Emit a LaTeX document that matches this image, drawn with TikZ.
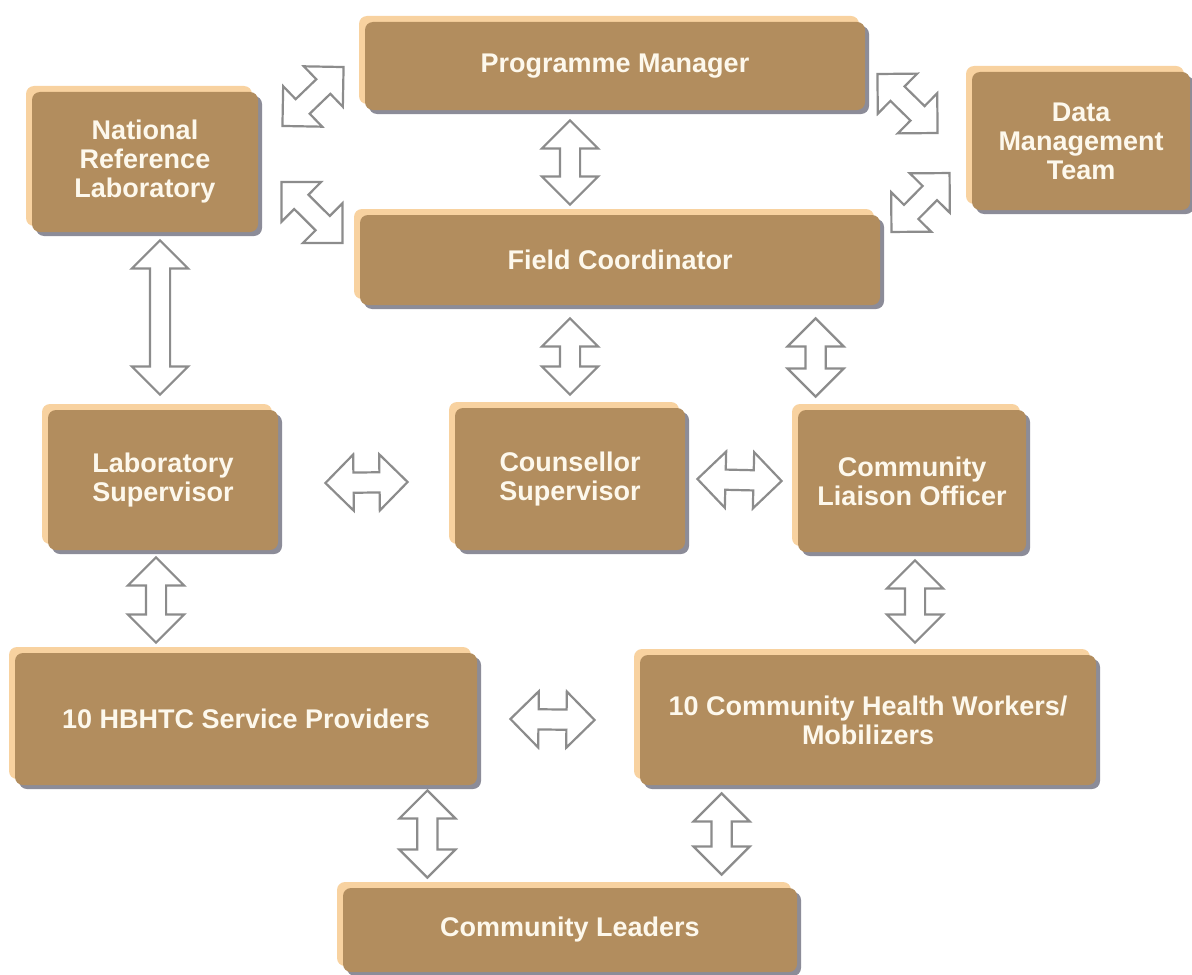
\documentclass[tikz,border=0pt]{standalone}
\usepackage{fontspec}
\setmainfont{Liberation Sans}
\usetikzlibrary{calc, shapes.arrows, shadows}

\definecolor{boxbrown}{RGB}{178,141,94}
\definecolor{boxglow}{RGB}{248,210,160}
\definecolor{boxshade}{RGB}{140,140,152}
\definecolor{boxtext}{RGB}{253,248,236}
\definecolor{arrowgray}{RGB}{140,140,140}

\tikzset{
  orgbox/.style={rounded corners=4pt, fill=boxbrown, text=boxtext, align=center,
    font=\fontsize{13.5}{14.5}\selectfont\bfseries, inner sep=0pt,
    general shadow={fill=boxglow, shadow xshift=-3pt, shadow yshift=3pt},
    general shadow={fill=boxshade, shadow xshift=2pt, shadow yshift=-2pt}},
  dblarr/.style={double arrow, draw=arrowgray, fill=white, line width=1.1pt,
    inner sep=4.5pt, double arrow head extend=9pt, double arrow tip angle=90}
}

% hollow two-way arrow between two points
\newcommand{\linkarrow}[2]{%
  \path let \p1=(#1), \p2=(#2),
    \n1={atan2(\y2-\y1,\x2-\x1)}, \n2={veclen(\x2-\x1,\y2-\y1)}
    in node[dblarr, minimum height=\n2, rotate=\n1] at (\x1/2+\x2/2,\y1/2+\y2/2) {};}

\begin{document}
\begin{tikzpicture}[x=0.5pt, y=-0.5pt]
    \fill[white] (0,0) rectangle (1192,974);
    \useasboundingbox (0,0) rectangle (1192,974);

    % Top row
    \node[orgbox, minimum width=113pt, minimum height=70pt] (nrl) at (145,162) {National\\Reference\\Laboratory};
    \node[orgbox, minimum width=250pt, minimum height=44pt] (pm) at (615,66) {Programme Manager};
    \node[orgbox, minimum width=109pt, minimum height=69pt] (dmt) at (1081,141) {Data\\Management\\Team};
    \node[orgbox, minimum width=260pt, minimum height=45pt] (fc) at (620,260) {Field Coordinator};

    % Supervisors
    \node[orgbox, minimum width=115pt, minimum height=70pt] (ls) at (163,480) {Laboratory\\Supervisor};
    \node[orgbox, minimum width=115pt, minimum height=71pt] (cs) at (570,479) {Counsellor\\Supervisor};
    \node[orgbox, minimum width=114pt, minimum height=71pt] (clo) at (912,481) {Community\\Liaison Officer};

    % Field staff
    \node[orgbox, minimum width=231pt, minimum height=66pt] (hb) at (246,719) {10 HBHTC Service Providers};
    \node[orgbox, minimum width=228pt, minimum height=65pt] (chw) at (868,720) {10 Community Health Workers/\\Mobilizers};
    \node[orgbox, minimum width=227pt, minimum height=42pt] (cl) at (570,930) {Community Leaders};

    % Diagonal arrows
    \linkarrow{$(nrl.east)+(24,-36)$}{$(pm.west)+(-21,1)$}
    \linkarrow{$(nrl.east)+(23,20)$}{$(fc.west)+(-17,-17)$}
    \linkarrow{$(pm.east)+(12,8)$}{$(dmt.west)+(-34,-8)$}
    \linkarrow{$(fc.east)+(11,-28)$}{$(dmt.west)+(-22,32)$}

    % Vertical arrows
    \linkarrow{$(pm.south -| cs.north)+(0,10)$}{$(fc.north -| cs.north)+(0,-10)$}
    \linkarrow{$(fc.south -| cs.north)+(0,13)$}{$(cs.north)+(0,-13)$}
    \linkarrow{$(fc.south -| clo.north west)+(18,13)$}{$(clo.north west)+(18,-13)$}
    \linkarrow{$(nrl.south -| ls.north)+(-3,8)$}{$(ls.north)+(-3,-15)$}
    \linkarrow{$(ls.south)+(-7,7)$}{$(hb.north -| ls.south)+(-7,-10)$}
    \linkarrow{$(clo.south)+(3,8)$}{$(chw.north -| clo.south)+(3,-12)$}
    \linkarrow{$(hb.south east)+(-50,5)$}{$(cl.north -| hb.south east)+(-50,-10)$}
    \linkarrow{$(chw.south west)+(82,8)$}{$(cl.north -| chw.south west)+(82,-13)$}

    % Horizontal arrows
    \linkarrow{$(ls.east)+(47,3)$}{$(cs.west)+(-47,3)$}
    \linkarrow{$(cs.east)+(12,0)$}{$(clo.west)+(-16,0)$}
    \linkarrow{$(hb.east)+(33,0)$}{$(chw.west)+(-45,0)$}
\end{tikzpicture}
\end{document}
